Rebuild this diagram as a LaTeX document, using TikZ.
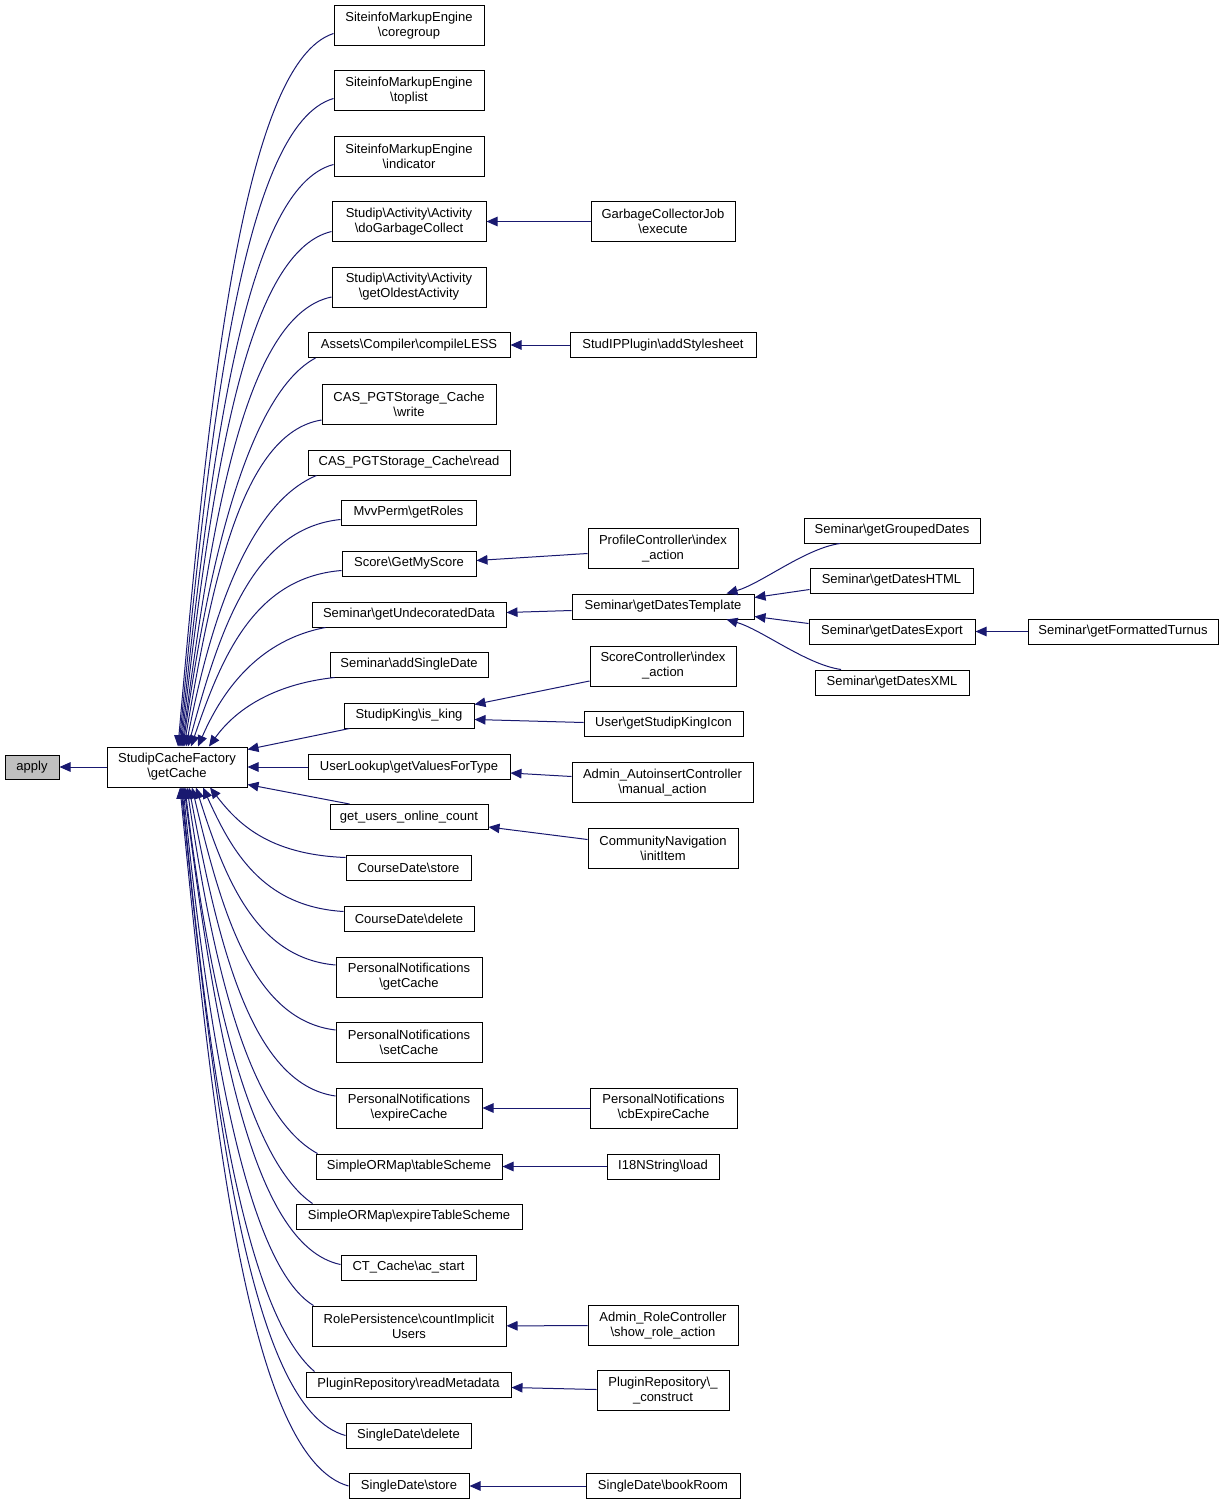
\documentclass[tikz,border=0pt]{standalone}
\usepackage{fontspec}
\setmainfont{Liberation Sans}
\usepackage{tikz}
\usetikzlibrary{calc,arrows.meta}
\definecolor{edgeblue}{HTML}{191970}
\definecolor{rootgray}{HTML}{BFBFBF}
\newcommand{\bsl}{\textbackslash}
\tikzset{
  fn/.style={draw=black, line width=1pt, fill=white, align=center, inner xsep=2pt, inner ysep=1pt,
             minimum height=25pt, font=\fontsize{13}{15}\selectfont},
  fntwo/.style={fn, minimum height=40pt},
  boxw/.style={minimum width=#1pt},
  call/.style={draw=edgeblue, line width=1pt, -{Triangle[length=11pt,width=9.5pt]}}
}

\begin{document}
\begin{tikzpicture}[x=1pt,y=-1pt]
  \useasboundingbox (0,0) rectangle (1224,1506);
  \node[fn, boxw=54, fill=rootgray, minimum height=24pt] (apply) at (32,767) {apply};
  \node[fntwo, boxw=140] (gc) at (177,767) {StudipCacheFactory\\\bsl getCache};

  \node[fntwo, boxw=150] (cg) at (409,25.5) {SiteinfoMarkupEngine\\\bsl coregroup};
  \node[fntwo, boxw=150] (tl) at (409,90.5) {SiteinfoMarkupEngine\\\bsl toplist};
  \node[fntwo, boxw=150] (ind) at (409,156.5) {SiteinfoMarkupEngine\\\bsl indicator};
  \node[fntwo, boxw=154] (dgc) at (409,221.5) {Studip\bsl Activity\bsl Activity\\\bsl doGarbageCollect};
  \node[fntwo, boxw=154] (goa) at (409,287) {Studip\bsl Activity\bsl Activity\\\bsl getOldestActivity};
  \node[fn, boxw=202] (cl) at (409,345) {Assets\bsl Compiler\bsl compileLESS};
  \node[fntwo, boxw=174] (cw) at (409,404) {CAS\_PGTStorage\_Cache\\\bsl write};
  \node[fn, boxw=202] (cr) at (409,462.5) {CAS\_PGTStorage\_Cache\bsl read};
  \node[fn, boxw=135] (mp) at (408.5,512.5) {MvvPerm\bsl getRoles};
  \node[fn, boxw=134] (gms) at (409,563.5) {Score\bsl GetMyScore};
  \node[fn, boxw=194] (gud) at (409,614.5) {Seminar\bsl getUndecoratedData};
  \node[fn, boxw=158] (asd) at (409,664.5) {Seminar\bsl addSingleDate};
  \node[fn, boxw=130] (kg) at (409,715.5) {StudipKing\bsl is\_king};
  \node[fn, boxw=202] (ul) at (409,767) {UserLookup\bsl getValuesForType};
  \node[fn, boxw=158] (uoc) at (409,817) {get\_users\_online\_count};
  \node[fn, boxw=125] (cds) at (408.5,867.5) {CourseDate\bsl store};
  \node[fn, boxw=130] (cdd) at (409,918.5) {CourseDate\bsl delete};
  \node[fntwo, boxw=146] (pgc) at (409,977) {PersonalNotifications\\\bsl getCache};
  \node[fntwo, boxw=146] (psc) at (409,1042) {PersonalNotifications\\\bsl setCache};
  \node[fntwo, boxw=146] (pec) at (409,1108) {PersonalNotifications\\\bsl expireCache};
  \node[fn, boxw=186] (ts) at (409,1166.5) {SimpleORMap\bsl tableScheme};
  \node[fn, boxw=226] (ets) at (409,1216.5) {SimpleORMap\bsl expireTableScheme};
  \node[fn, boxw=135] (acs) at (408.5,1267.5) {CT\_Cache\bsl ac\_start};
  \node[fntwo, boxw=194] (ciu) at (409,1326) {RolePersistence\bsl countImplicit\\Users};
  \node[fn, boxw=205] (rmd) at (408.5,1384.5) {PluginRepository\bsl readMetadata};
  \node[fn, boxw=125] (sdd) at (408.5,1435.5) {SingleDate\bsl delete};
  \node[fn, boxw=120] (sds) at (409,1486) {SingleDate\bsl store};

  \node[fntwo, boxw=144] (gcj) at (663,221.5) {GarbageCollectorJob\\\bsl execute};
  \node[fn, boxw=186] (ass) at (663,345) {StudIPPlugin\bsl addStylesheet};
  \node[fntwo, boxw=150] (pci) at (663,548.5) {ProfileController\bsl index\\\_action};
  \node[fn, boxw=182] (gdt) at (663,606.5) {Seminar\bsl getDatesTemplate};
  \node[fntwo, boxw=146] (sci) at (663,666) {ScoreController\bsl index\\\_action};
  \node[fn, boxw=159] (ski) at (663.5,723.5) {User\bsl getStudipKingIcon};
  \node[fntwo, boxw=181] (aac) at (662.5,782.5) {Admin\_AutoinsertController\\\bsl manual\_action};
  \node[fntwo, boxw=150] (cni) at (663,848.5) {CommunityNavigation\\\bsl initItem};
  \node[fntwo, boxw=147] (cbe) at (663.5,1108) {PersonalNotifications\\\bsl cbExpireCache};
  \node[fn, boxw=112] (i18) at (663,1166.5) {I18NString\bsl load};
  \node[fntwo, boxw=150] (arc) at (663,1325.5) {Admin\_RoleController\\\bsl show\_role\_action};
  \node[fntwo, boxw=132] (prc) at (663,1390.5) {PluginRepository\bsl \_\\\_construct};
  \node[fn, boxw=154] (sbr) at (663,1486) {SingleDate\bsl bookRoom};

  \node[fn, boxw=176] (ggd) at (892,530.5) {Seminar\bsl getGroupedDates};
  \node[fn, boxw=163] (gdh) at (891.5,580.5) {Seminar\bsl getDatesHTML};
  \node[fn, boxw=166] (gde) at (892,631.5) {Seminar\bsl getDatesExport};
  \node[fn, boxw=154] (gdx) at (892,682.5) {Seminar\bsl getDatesXML};
  \node[fn, boxw=190] (gft) at (1123,631.5) {Seminar\bsl getFormattedTurnus};

  \draw[call] (gc) -- (apply);

  \draw[call] ($(cg.west)+(0,8)$) .. controls +(-90,29) and +(31,-357) .. ($(gc.north)+(1,0)$);
  \draw[call] ($(tl.west)+(0,8)$) .. controls +(-90,26) and +(31,-324) .. ($(gc.north)+(2,0)$);
  \draw[call] ($(ind.west)+(0,8)$) .. controls +(-89,23) and +(31,-291) .. ($(gc.north)+(3,0)$);
  \draw[call] ($(dgc.west)+(0,10)$) .. controls +(-88,21) and +(30,-258) .. ($(gc.north)+(4,0)$);
  \draw[call] ($(goa.west)+(0,10)$) .. controls +(-87,18) and +(30,-225) .. ($(gc.north)+(5,0)$);
  \draw[call] ($(cl.south west)+(8,0)$) .. controls +(-65,35) and +(27,-195) .. ($(gc.north)+(6,0)$);
  \draw[call] ($(cw.west)+(0,16)$) .. controls +(-80,13) and +(28,-164) .. ($(gc.north)+(7,0)$);
  \draw[call] ($(cr.south west)+(9,0)$) .. controls +(-65,27) and +(26,-136) .. ($(gc.north)+(9,0)$);
  \draw[call] ($(mp.west)+(0,7)$) .. controls +(-89,9) and +(31,-114) .. ($(gc.north)+(11,0)$);
  \draw[call] ($(gms.west)+(0,7)$) .. controls +(-88,7) and +(30,-88) .. ($(gc.north)+(14,0)$);
  \draw[call] ($(gud.south west)+(14,0)$) .. controls +(-64,12) and +(26,-60) .. ($(gc.north)+(21,0)$);
  \draw[call] ($(asd.south west)+(5,0)$) .. controls +(-64,7) and +(25,-35) .. ($(gc.north)+(32,0)$);

  \draw[call] ($(kg.south west)+(6,0)$) -- ($(gc.north east)+(0,3)$);
  \draw[call] (ul) -- (gc);
  \draw[call] ($(uoc.north west)+(20,0)$) -- ($(gc.south east)+(0,-3)$);

  \draw[call] ($(cds.west)+(0,-10)$) .. controls +(-78,-3) and +(27,35) .. ($(gc.south)+(33,0)$);
  \draw[call] ($(cdd.west)+(0,-7)$) .. controls +(-82,-5) and +(28,62) .. ($(gc.south)+(26,0)$);
  \draw[call] ($(pgc.west)+(0,-12)$) .. controls +(-81,-7) and +(28,88) .. ($(gc.south)+(19,0)$);
  \draw[call] ($(psc.west)+(0,-12)$) .. controls +(-84,-10) and +(29,122) .. ($(gc.south)+(15,0)$);
  \draw[call] ($(pec.west)+(0,-12)$) .. controls +(-85,-12) and +(29,155) .. ($(gc.south)+(12,0)$);
  \draw[call] ($(ts.north west)+(2,0)$) .. controls +(-68,-37) and +(27,184) .. ($(gc.south)+(10,0)$);
  \draw[call] ($(ets.north west)+(17,0)$) .. controls +(-62,-42) and +(25,209) .. ($(gc.south)+(8,0)$);
  \draw[call] ($(acs.west)+(0,-3)$) .. controls +(-91,-19) and +(31,238) .. ($(gc.south)+(7,0)$);
  \draw[call] ($(ciu.north west)+(2,0)$) .. controls +(-66,-40) and +(26,260) .. ($(gc.south)+(6,0)$);
  \draw[call] ($(rmd.north west)+(9,0)$) .. controls +(-68,-58) and +(27,293) .. ($(gc.south)+(5,0)$);
  \draw[call] (sdd.west) .. controls +(-96,-26) and +(33,322) .. ($(gc.south)+(4,0)$);
  \draw[call] (sds.west) .. controls +(-99,-28) and +(34,348) .. ($(gc.south)+(3,0)$);

  \draw[call] (gcj) -- (dgc);
  \draw[call] (ass) -- (cl);
  \draw[call] ($(pci.west)+(0,5)$) -- ($(gms.east)+(0,-3)$);
  \draw[call] ($(gdt.west)+(0,4)$) -- ($(gud.east)+(0,-2)$);
  \draw[call] ($(sci.west)+(0,15)$) -- ($(kg.east)+(0,-11)$);
  \draw[call] ($(ski.west)+(0,-1)$) -- ($(kg.east)+(0,4)$);
  \draw[call] ($(aac.west)+(0,-6)$) -- ($(ul.east)+(0,6)$);
  \draw[call] ($(cni.west)+(0,-9)$) -- ($(uoc.east)+(0,10)$);
  \draw[call] (cbe) -- (pec);
  \draw[call] (i18) -- (ts);
  \draw[call] (arc) -- (ciu);
  \draw[call] ($(prc.west)+(0,-1)$) -- ($(rmd.east)+(0,3)$);
  \draw[call] (sbr) -- (sds);

  \draw[call] ($(ggd.south)+(-52,0)$) .. controls +(-35,5) and +(35,-10) .. ($(gdt.north east)+(-28,0)$);
  \draw[call] ($(gdh.west)+(0,9)$) -- ($(gdt.east)+(0,-9)$);
  \draw[call] ($(gde.west)+(0,-8)$) -- ($(gdt.east)+(0,10)$);
  \draw[call] ($(gdx.north)+(-51,0)$) .. controls +(-35,-5) and +(35,10) .. ($(gdt.south east)+(-28,0)$);
  \draw[call] (gft) -- (gde);
\end{tikzpicture}
\end{document}
